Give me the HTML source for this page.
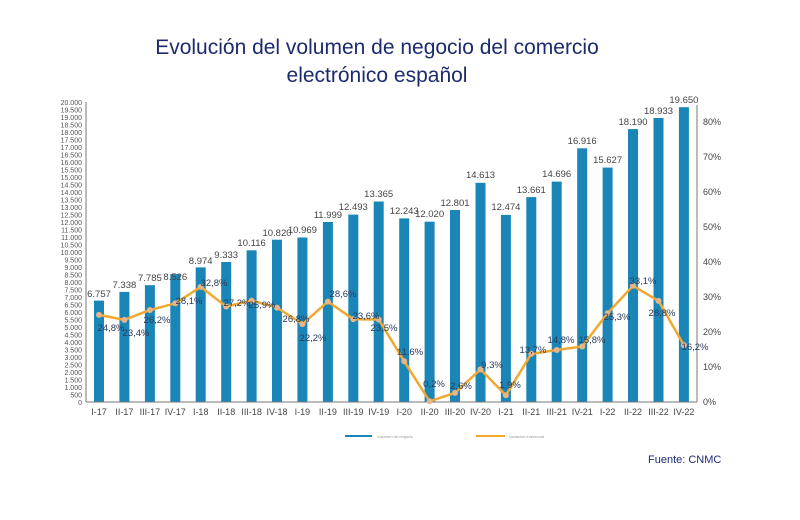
<!DOCTYPE html>
<html><head><meta charset="utf-8"><style>
body{margin:0;background:#fff;width:800px;height:520px;overflow:hidden}
.t{position:absolute;left:0;width:754px;text-align:center;font-family:"Liberation Sans",sans-serif;color:#1c2b6e;font-size:21px}
</style></head><body>
<div class="t" style="top:36px">Evolución del volumen de negocio del comercio</div>
<div class="t" style="top:64px">electrónico español</div>
<svg width="800" height="520" style="position:absolute;left:0;top:0" font-family="Liberation Sans, sans-serif">
<g fill="#1a86b8">
<rect x="94" y="300.6" width="10" height="101.4"/>
<rect x="119.4" y="291.9" width="10" height="110.1"/>
<rect x="144.9" y="285.2" width="10" height="116.8"/>
<rect x="170.3" y="274.1" width="10" height="127.9"/>
<rect x="195.7" y="267.4" width="10" height="134.6"/>
<rect x="221.2" y="262" width="10" height="140"/>
<rect x="246.6" y="250.3" width="10" height="151.7"/>
<rect x="272" y="239.7" width="10" height="162.3"/>
<rect x="297.4" y="237.5" width="10" height="164.5"/>
<rect x="322.9" y="222" width="10" height="180"/>
<rect x="348.3" y="214.6" width="10" height="187.4"/>
<rect x="373.7" y="201.5" width="10" height="200.5"/>
<rect x="399.2" y="218.4" width="10" height="183.6"/>
<rect x="424.6" y="221.7" width="10" height="180.3"/>
<rect x="450" y="210" width="10" height="192"/>
<rect x="475.5" y="182.8" width="10" height="219.2"/>
<rect x="500.9" y="214.9" width="10" height="187.1"/>
<rect x="526.3" y="197.1" width="10" height="204.9"/>
<rect x="551.7" y="181.6" width="10" height="220.4"/>
<rect x="577.2" y="148.3" width="10" height="253.7"/>
<rect x="602.6" y="167.6" width="10" height="234.4"/>
<rect x="628" y="129.1" width="10" height="272.9"/>
<rect x="653.5" y="118" width="10" height="284"/>
<rect x="678.9" y="107.2" width="10" height="294.8"/>
</g>
<g stroke="#777" stroke-width="1" fill="none">
<line x1="86" y1="102" x2="86" y2="402"/>
<line x1="86" y1="402" x2="697" y2="402"/>
<line x1="697" y1="105" x2="697" y2="402"/>
</g>
<polyline fill="none" stroke="#f0a830" stroke-width="2.5" points="99,314.9 124.4,319.9 149.9,310 175.3,303.4 200.7,286.9 226.2,306.5 251.6,300.6 277,307.6 302.4,324.1 327.9,301.6 353.3,319.2 378.7,319.5 404.2,361.3 429.6,401.3 455,392.9 480.5,369.4 505.9,395.3 531.3,353.9 556.7,350 582.2,346.5 607.6,313.2 633,285.8 658.5,300.9 683.9,345.1"/>
<g fill="#e8b48a">
<circle cx="99" cy="314.9" r="3"/><circle cx="124.4" cy="319.9" r="3"/><circle cx="149.9" cy="310" r="3"/><circle cx="175.3" cy="303.4" r="3"/><circle cx="200.7" cy="286.9" r="3"/><circle cx="226.2" cy="306.5" r="3"/><circle cx="251.6" cy="300.6" r="3"/><circle cx="277" cy="307.6" r="3"/><circle cx="302.4" cy="324.1" r="3"/><circle cx="327.9" cy="301.6" r="3"/><circle cx="353.3" cy="319.2" r="3"/><circle cx="378.7" cy="319.5" r="3"/><circle cx="404.2" cy="361.3" r="3"/><circle cx="429.6" cy="401.3" r="3"/><circle cx="455" cy="392.9" r="3"/><circle cx="480.5" cy="369.4" r="3"/><circle cx="505.9" cy="395.3" r="3"/><circle cx="531.3" cy="353.9" r="3"/><circle cx="556.7" cy="350" r="3"/><circle cx="582.2" cy="346.5" r="3"/><circle cx="607.6" cy="313.2" r="3"/><circle cx="633" cy="285.8" r="3"/><circle cx="658.5" cy="300.9" r="3"/><circle cx="683.9" cy="345.1" r="3"/>
</g>
<g font-size="9.5" fill="#444" text-anchor="middle">
<text x="99" y="297">6.757</text><text x="124.4" y="288">7.338</text><text x="149.9" y="281">7.785</text><text x="175.3" y="280">8.526</text><text x="200.7" y="264">8.974</text><text x="226.2" y="258">9.333</text><text x="251.6" y="246">10.116</text><text x="277" y="236">10.820</text><text x="302.4" y="233">10.969</text><text x="327.9" y="218">11.999</text><text x="353.3" y="210">12.493</text><text x="378.7" y="197">13.365</text><text x="404.2" y="214">12.243</text><text x="429.6" y="217">12.020</text><text x="455" y="206">12.801</text><text x="480.5" y="178">14.613</text><text x="505.9" y="210">12.474</text><text x="531.3" y="193">13.661</text><text x="556.7" y="177">14.696</text><text x="582.2" y="144">16.916</text><text x="607.6" y="163">15.627</text><text x="633" y="125">18.190</text><text x="658.5" y="114">18.933</text><text x="683.9" y="103">19.650</text>
</g>
<g font-size="9.5" fill="#2a3a5a" text-anchor="middle">
<text x="111" y="331">24,8%</text><text x="136" y="336">23,4%</text><text x="157" y="323">26,2%</text><text x="189" y="304">28,1%</text><text x="214" y="286">32,8%</text><text x="237" y="306">27,2%</text><text x="262" y="308">25,9%</text><text x="296" y="322">26,8%</text><text x="313" y="341">22,2%</text><text x="343" y="297">28,6%</text><text x="366" y="319">23,6%</text><text x="384" y="331">23,5%</text><text x="410" y="355">11,6%</text><text x="434" y="387">0,2%</text><text x="461" y="389">2,6%</text><text x="492" y="368">9,3%</text><text x="510" y="388">1,9%</text><text x="533" y="353">13,7%</text><text x="561" y="343">14,8%</text><text x="592" y="343">15,8%</text><text x="617" y="320">25,3%</text><text x="643" y="284">33,1%</text><text x="662" y="316">28,8%</text><text x="695" y="350">16,2%</text>
</g>
<g font-size="9" fill="#444" text-anchor="middle">
<text x="99" y="415">I-17</text><text x="124.4" y="415">II-17</text><text x="149.9" y="415">III-17</text><text x="175.3" y="415">IV-17</text><text x="200.7" y="415">I-18</text><text x="226.2" y="415">II-18</text><text x="251.6" y="415">III-18</text><text x="277" y="415">IV-18</text><text x="302.4" y="415">I-19</text><text x="327.9" y="415">II-19</text><text x="353.3" y="415">III-19</text><text x="378.7" y="415">IV-19</text><text x="404.2" y="415">I-20</text><text x="429.6" y="415">II-20</text><text x="455" y="415">III-20</text><text x="480.5" y="415">IV-20</text><text x="505.9" y="415">I-21</text><text x="531.3" y="415">II-21</text><text x="556.7" y="415">III-21</text><text x="582.2" y="415">IV-21</text><text x="607.6" y="415">I-22</text><text x="633" y="415">II-22</text><text x="658.5" y="415">III-22</text><text x="683.9" y="415">IV-22</text>
</g>
<g font-size="9" fill="#444">
<text x="703" y="405">0%</text><text x="703" y="370">10%</text><text x="703" y="335">20%</text><text x="703" y="300">30%</text><text x="703" y="265">40%</text><text x="703" y="230">50%</text><text x="703" y="195">60%</text><text x="703" y="160">70%</text><text x="703" y="125">80%</text>
</g>
<g font-size="7" fill="#555" text-anchor="end">
<text x="82" y="405">0</text><text x="82" y="397.5">500</text><text x="82" y="390">1.000</text><text x="82" y="382.5">1.500</text><text x="82" y="375">2.000</text><text x="82" y="367.5">2.500</text><text x="82" y="360">3.000</text><text x="82" y="352.5">3.500</text><text x="82" y="345">4.000</text><text x="82" y="337.5">4.500</text><text x="82" y="330">5.000</text><text x="82" y="322.5">5.500</text><text x="82" y="315">6.000</text><text x="82" y="307.5">6.500</text><text x="82" y="300">7.000</text><text x="82" y="292.5">7.500</text><text x="82" y="285">8.000</text><text x="82" y="277.5">8.500</text><text x="82" y="270">9.000</text><text x="82" y="262.5">9.500</text><text x="82" y="255">10.000</text><text x="82" y="247.5">10.500</text><text x="82" y="240">11.000</text><text x="82" y="232.5">11.500</text><text x="82" y="225">12.000</text><text x="82" y="217.5">12.500</text><text x="82" y="210">13.000</text><text x="82" y="202.5">13.500</text><text x="82" y="195">14.000</text><text x="82" y="187.5">14.500</text><text x="82" y="180">15.000</text><text x="82" y="172.5">15.500</text><text x="82" y="165">16.000</text><text x="82" y="157.5">16.500</text><text x="82" y="150">17.000</text><text x="82" y="142.5">17.500</text><text x="82" y="135">18.000</text><text x="82" y="127.5">18.500</text><text x="82" y="120">19.000</text><text x="82" y="112.5">19.500</text><text x="82" y="105">20.000</text>
</g>
<line x1="345" y1="436" x2="372" y2="436" stroke="#1a86b8" stroke-width="2"/>
<text x="377" y="438" font-size="4" fill="#999">Volumen de negocio</text>
<line x1="476" y1="436" x2="505" y2="436" stroke="#f0a830" stroke-width="2"/>
<text x="509" y="438" font-size="4" fill="#999">Variación interanual</text>
<text x="648" y="463" font-size="11" fill="#1c2b6e">Fuente: CNMC</text>
</svg>
</body></html>
